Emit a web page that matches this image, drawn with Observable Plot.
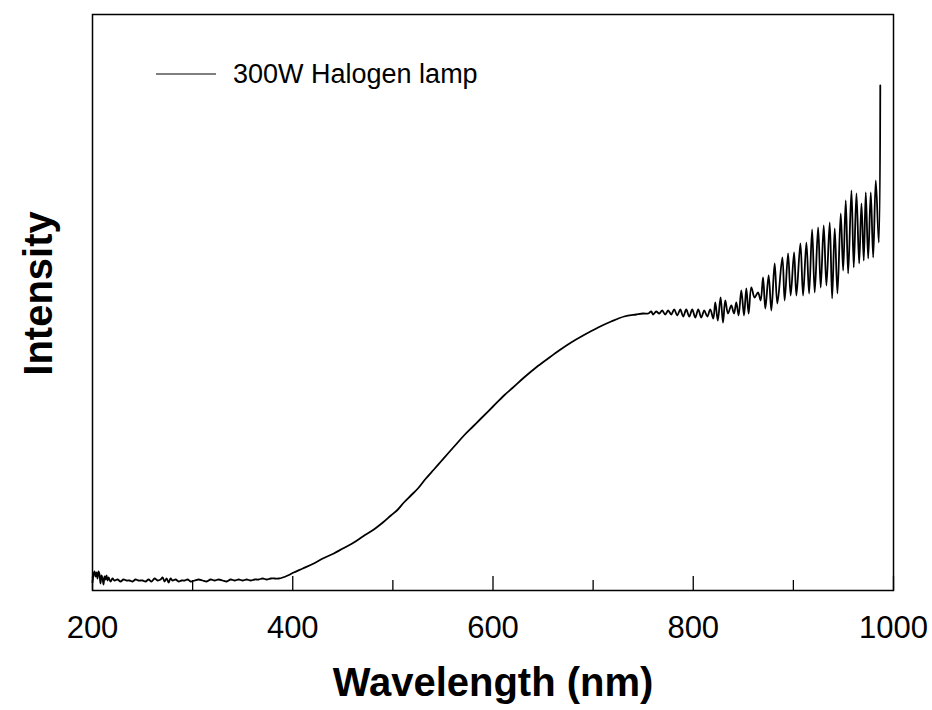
<!DOCTYPE html>
<html>
<head>
<meta charset="utf-8">
<script src="https://cdn.jsdelivr.net/npm/d3@7"></script>
<script src="https://cdn.jsdelivr.net/npm/@observablehq/plot@0.6"></script>
<style>
  body { margin: 0; background: white; }
  #wrap { position: relative; width: 932px; height: 710px; font-family: Arial, "Liberation Sans", sans-serif; }
  #legend { position: absolute; left: 156px; top: 74px; transform: translateY(-50%); display: flex; align-items: center; font-size: 27px; color: black; white-space: nowrap; }
  #legend .sw { width: 60px; height: 0; border-top: 1.5px solid black; margin-right: 17px; }
</style>
</head>
<body>
<div id="wrap">
  <div id="legend"><span class="sw"></span><span>300W Halogen lamp</span></div>
</div>
<script>
// Wavelength (nm) and intensity (a.u.)
const wavelength = [
  200,201,202,203,204,205,206,207,208,209,210,211,212,213,214,215,216,218,220,222,
  225,228,231,234,237,240,243,246,250,253,256,259,262,265,268,270,272,274,276,278,
  280,283,286,289,292,295,298,302,306,310,314,318,322,326,330,334,338,342,346,350,
  354,358,362,366,370,374,378,382,386,390,395,401,
  410,421,430,441,450,461,470,481,490,498,505,511,518,525,533,541,548,555,563,571,
  580,588,600,611,620,631,643,655,666,678,690,705,718,731,743,750,
  755,758,760,763,766,769,772,775,778,781,784,787,790,793,796,799,802,805,808,811,
  814,817,820,
  822,824.5,827.3,829.7,832,834.7,838,840.7,843,845.3,848,850.7,853,855.3,858,861.3,
  864.7,867.3,869.7,872,875.3,878,881.3,884,
  889,891.3,894.7,897.3,900.7,903,907,909.7,913,915.7,918.7,921.3,924.7,927.3,930.3,933,
  936.3,938.7,941.3,944,947.3,949.7,952.3,954.7,958,960.3,963,965.7,968,970.3,972.3,974.7,
  977.3,979.7,982.3,985.3,986.8
];
const intensity = [
  8,16,19,14,18,12,19,16,7,15,12,6,14,11,15,10,13,9,12,10,
  11,9,11,10,10,9,11,10,10,9,11,9,12,10,11,13,9,12,8,12,
  10,11,9,10,10,11,9,10,11,10,9,11,10,11,10,9,11,10,11,10,
  11,10,11,11,12,11,12,12,12,13,15,18,
  22,27,32,37,42,48,54,61,68,75,81,88,95,102,112,121,129,137,146,155,
  164,172,184,195,203,213,223,232,240,248,255,263,269,274,276,277,
  277,279,276,279,277,280,276,280,276,281,275,281,274,281,274,281,273,281,273,280,
  274,281,272,
  288,270,293,268,290,277,285,277,288,275,300,275,302,277,303,293,
  298,290,313,282,315,280,327,287,
  333,290,337,295,338,295,347,295,348,297,361,298,363,303,365,305,
  368,292,362,297,377,320,390,317,400,323,397,327,387,330,398,332,
  398,333,410,348,505
];
const majorTicks = [200, 400, 600, 800, 1000];
const minorTicks = [300, 500, 700, 900];
const tickLabels = [200, 400, 600, 800, 1000];
const xTitle = "Wavelength (nm)";
const yTitle = "Intensity";

const data = wavelength.map((w, i) => ({w, v: intensity[i]}));
const font = "Arial, 'Liberation Sans', sans-serif";

const chart = Plot.plot({
  width: 932,
  height: 710,
  marginLeft: 92,
  marginRight: 39,
  marginTop: 14,
  marginBottom: 120,
  style: {fontFamily: font, background: "white", color: "black"},
  x: {domain: [200, 1000]},
  y: {domain: [0, 576], axis: null},
  marks: [
    Plot.line(data, {x: "w", y: "v", stroke: "black", strokeWidth: 1.8, curve: "catmull-rom"}),
    Plot.tickX(majorTicks, {x: d => d, insetTop: 562, stroke: "black", strokeWidth: 1.3}),
    Plot.tickX(minorTicks, {x: d => d, insetTop: 566, stroke: "black", strokeWidth: 1.3}),
    Plot.axisX(tickLabels, {tickSize: 0, tickPadding: 25, fontSize: 31, label: null, tickFormat: d => String(d)}),
    Plot.text([xTitle], {text: d => d, frameAnchor: "bottom", dy: 93, lineAnchor: "middle", fontSize: 40, fontWeight: "bold"}),
    Plot.text([yTitle], {text: d => d, frameAnchor: "left", rotate: -90, dx: -53, dy: -9, textAnchor: "middle", lineAnchor: "middle", fontSize: 40, fontWeight: "bold"}),
    Plot.frame({stroke: "black", strokeWidth: 1.5})
  ]
});
document.getElementById("wrap").prepend(chart);
</script>
</body>
</html>
